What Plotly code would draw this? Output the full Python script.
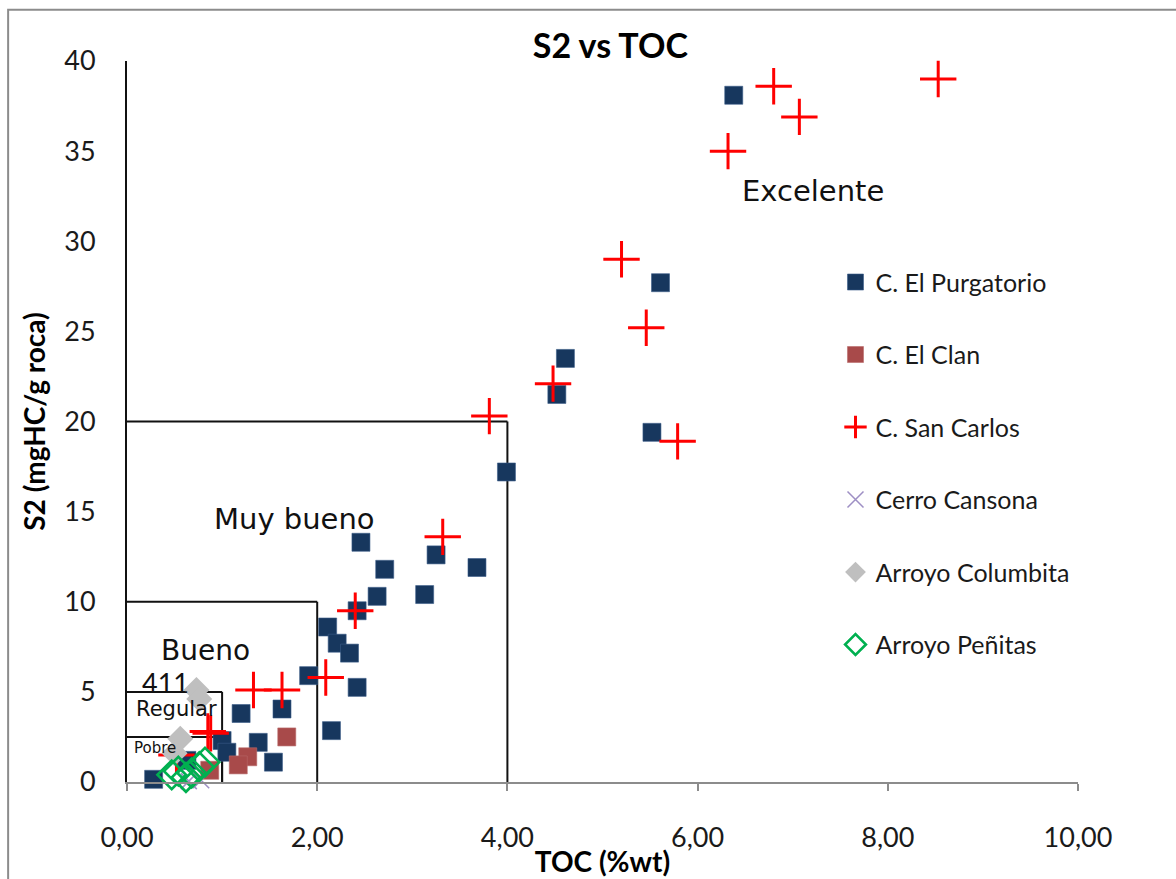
import plotly.graph_objects as go

# TOC (%wt) and S2 (mgHC/g roca) per formation
purgatorio_toc = [6.38, 5.61, 4.61, 4.52, 5.52, 3.99, 2.46, 3.25, 3.68, 2.71, 2.63, 3.13, 2.42,
                  2.11, 2.21, 2.34, 1.91, 2.42, 1.63, 1.20, 2.15, 1.38, 1.00, 1.05, 1.54, 0.28, 0.63]
purgatorio_s2 = [38.1, 27.7, 23.5, 21.5, 19.4, 17.2, 13.3, 12.6, 11.9, 11.8, 10.3, 10.4, 9.5,
                 8.6, 7.7, 7.15, 5.9, 5.25, 4.05, 3.8, 2.85, 2.2, 2.3, 1.65, 1.1, 0.15, 1.2]

clan_toc = [1.68, 1.27, 1.17, 0.87]
clan_s2 = [2.5, 1.4, 0.95, 0.65]

sancarlos_toc = [8.53, 6.80, 7.07, 6.32, 5.20, 5.46, 4.48, 3.81, 5.79, 3.32, 2.40, 2.09, 1.33,
                 1.63, 0.85, 0.88, 0.52]
sancarlos_s2 = [39.0, 38.6, 36.9, 35.0, 29.0, 25.2, 22.1, 20.3, 18.9, 13.6, 9.5, 5.8, 5.1,
                5.1, 2.8, 2.7, 1.5]

cansona_toc = [0.65, 0.78]
cansona_s2 = [0.05, 0.1]

columbita_toc = [0.73, 0.76, 0.56, 0.50]
columbita_s2 = [5.1, 4.6, 2.4, 1.6]

penitas_toc = [0.47, 0.54, 0.62, 0.68, 0.76, 0.82]
penitas_s2 = [0.4, 0.6, 0.25, 0.5, 0.85, 1.1]

# Source-rock quality classes: upper TOC and S2 limits of each field
class_names = ["Pobre", "Regular", "Bueno", "Muy bueno"]
class_toc_max = [1, 1, 2, 4]
class_s2_max = [2.5, 5, 10, 20]

x_ticks = [0, 2, 4, 6, 8, 10]
y_ticks = [0, 5, 10, 15, 20, 25, 30, 35, 40]

CAL = "Lato, 'Open Sans', sans-serif"
ARIAL = "'DejaVu Sans', 'Liberation Sans', Arial, sans-serif"

fig = go.Figure()

series = [
    ("C. El Purgatorio", purgatorio_toc, purgatorio_s2,
     dict(symbol="square", size=18, color="#17375E", line=dict(color="#3B5C88", width=0.6))),
    ("C. El Clan", clan_toc, clan_s2,
     dict(symbol="square", size=18, color="#A84A4A", line=dict(color="#B86A6A", width=0.6))),
    ("C. San Carlos", sancarlos_toc, sancarlos_s2,
     dict(symbol="cross-thin", size=26, color="#FF0000", line=dict(color="#FF0000", width=3))),
    ("Cerro Cansona", cansona_toc, cansona_s2,
     dict(symbol="x-thin", size=16, color="#9E8FC4", line=dict(color="#9E8FC4", width=1.5))),
    ("Arroyo Columbita", columbita_toc, columbita_s2,
     dict(symbol="diamond", size=20, color="#BFBFBF", line=dict(color="#BFBFBF", width=0))),
    ("Arroyo Peñitas", penitas_toc, penitas_s2,
     dict(symbol="diamond-open", size=22, color="#00B050", line=dict(color="#00B050", width=2.6))),
]

for i, (name, xs, ys, mk) in enumerate(series):
    fig.add_trace(go.Scatter(
        x=xs, y=ys, mode="markers", name=name, marker=mk,
        legendgroup=f"g{i}", cliponaxis=False,
    ))

# Class boundaries drawn from the axes corner
for tx, sy in zip(class_toc_max, class_s2_max):
    fig.add_shape(type="line", xref="x", yref="y", x0=0, y0=sy, x1=tx, y1=sy,
                  line=dict(color="#111111", width=2), layer="below")
    fig.add_shape(type="line", xref="x", yref="y", x0=tx, y0=sy, x1=tx, y1=0,
                  line=dict(color="#111111", width=2), layer="below")

# Outer chart frame
fig.add_shape(type="rect", xref="paper", yref="paper",
              x0=-0.125, y0=-0.2, x1=1.15, y1=1.071,
              line=dict(color="#8C8C8C", width=2), layer="below")

labels = [
    ("Excelente", 7.21, 32.8, 29, ARIAL),
    ("Muy bueno", 1.76, 14.6, 29, ARIAL),
    ("Bueno", 0.83, 7.27, 28, ARIAL),
    ("Regular", 0.52, 4.05, 21, ARIAL),
    ("Pobre", 0.29, 1.9, 15, ARIAL),
    ("411", 0.40, 5.5, 27, CAL),
]
for txt, x, y, size, fam in labels:
    fig.add_annotation(x=x, y=y, xref="x", yref="y", text=txt, showarrow=False,
                       font=dict(family=fam, size=size, color="#111111"))

fig.update_layout(
    width=1176, height=879,
    margin=dict(l=127, r=98, t=61, b=97, autoexpand=False),
    paper_bgcolor="white", plot_bgcolor="white",
    separators=",.",
    title=dict(text="<b>S2 vs TOC</b>", x=0.519, xanchor="center", y=0.948, yanchor="middle",
               font=dict(family=CAL, size=34, color="#000000")),
    xaxis=dict(
        range=[0, 10], tickvals=x_ticks, tickformat=".2f", automargin=False,
        showline=True, linecolor="#8C8C8C", linewidth=1.5,
        ticks="outside", tickcolor="#8C8C8C", ticklen=7, tickwidth=1.5,
        showgrid=False, zeroline=False,
        tickfont=dict(family=CAL, size=27, color="#1A1A1A"),
        ticklabelstandoff=24,
        title=dict(text="<b>TOC (%wt)</b>", font=dict(family=CAL, size=28, color="#000000"),
                   standoff=0),
    ),
    yaxis=dict(
        range=[0, 40], tickvals=y_ticks, automargin=False,
        showline=True, linecolor="#111111", linewidth=2,
        ticks="", showgrid=False, zeroline=False,
        tickfont=dict(family=CAL, size=27, color="#1A1A1A"),
        ticklabelstandoff=24,
        title=dict(text="<b>S2 (mgHC/g roca)</b>", font=dict(family=CAL, size=28, color="#000000"),
                   standoff=10),
    ),
    legend=dict(
        x=0.745, y=0.725, xanchor="left", yanchor="top",
        traceorder="grouped", tracegroupgap=37,
        font=dict(family=CAL, size=25, color="#1A1A1A"),
        bgcolor="rgba(0,0,0,0)",
    ),
    showlegend=True,
)

fig.write_html("out.html")
